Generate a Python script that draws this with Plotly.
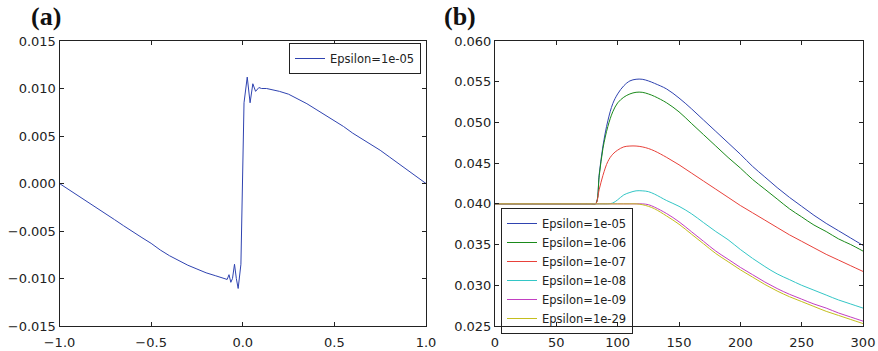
import plotly.graph_objects as go

# ---------------- Panel (a) data ----------------
a_x = [-1.0, -0.95, -0.9, -0.85, -0.8, -0.75, -0.7, -0.65, -0.6, -0.55, -0.5,
       -0.45, -0.4, -0.35, -0.3, -0.25, -0.2, -0.15, -0.115,
       -0.095, -0.085, -0.075, -0.065, -0.056, -0.045,
       -0.035, -0.025, -0.010, -0.004, 0.002, 0.007, 0.0245, 0.04, 0.055,
       0.070, 0.088, 0.103, 0.13, 0.16, 0.2, 0.25, 0.3, 0.35, 0.4, 0.45, 0.5,
       0.55, 0.6, 0.65, 0.7, 0.75, 0.8, 0.85, 0.9, 0.95, 1.0]
a_y = [0.0, -0.00062, -0.00124, -0.00186, -0.0025, -0.00315, -0.0038, -0.00445,
       -0.0051, -0.0057, -0.0063, -0.0070, -0.0076, -0.0081, -0.0086, -0.0090,
       -0.0094, -0.0097, -0.0099,
       -0.0100, -0.0101, -0.0096, -0.0104, -0.0100, -0.0085,
       -0.0100, -0.01105, -0.0085, -0.003, 0.003, 0.0085, 0.0112, 0.0085, 0.0105,
       0.0097, 0.0101, 0.0100, 0.0100, 0.0099, 0.0097, 0.0094, 0.0089, 0.0084,
       0.0078, 0.0072, 0.0066, 0.0060, 0.0053, 0.0047, 0.0041, 0.0035, 0.0028,
       0.0021, 0.0014, 0.0007, 0.0]
a_name = "Epsilon=1e-05"

# ---------------- Panel (b) data ----------------
b_t = [0, 78, 82, 85, 88, 92, 96, 100, 105, 110, 115, 120, 125, 130, 140, 150,
       160, 170, 180, 190, 200, 210, 220, 230, 240, 250, 260, 270, 280, 290, 300]
eps_1e05 = [0.0400, 0.0400, 0.0400, 0.0437, 0.0471, 0.0502, 0.0523, 0.0535,
            0.0545, 0.0551, 0.0553, 0.0553, 0.0551, 0.0548, 0.0541, 0.0530,
            0.0517, 0.0503, 0.0489, 0.0475, 0.0461, 0.0446, 0.0433, 0.0420,
            0.0408, 0.0397, 0.0386, 0.0376, 0.0367, 0.0358, 0.0349]
eps_1e06 = [0.0400, 0.0400, 0.0400, 0.0435, 0.0468, 0.0495, 0.0513, 0.0524,
            0.0531, 0.0535, 0.0537, 0.0537, 0.0535, 0.0532, 0.0524, 0.0513,
            0.0499, 0.0485, 0.0471, 0.0457, 0.0444, 0.0430, 0.0418, 0.0406,
            0.0394, 0.0384, 0.0374, 0.0366, 0.0357, 0.0350, 0.0342]
eps_1e07 = [0.0400, 0.0400, 0.0400, 0.0418, 0.0435, 0.0452, 0.0461, 0.0466,
            0.0470, 0.0471, 0.0471, 0.0470, 0.0468, 0.0465, 0.0457, 0.0448,
            0.0438, 0.0428, 0.0418, 0.0408, 0.0398, 0.0389, 0.0380, 0.0371,
            0.0362, 0.0354, 0.0346, 0.0338, 0.0331, 0.0324, 0.0317]
eps_1e08 = [0.0400, 0.0400, 0.0400, 0.0400, 0.0400, 0.0400, 0.0401, 0.0405,
            0.0411, 0.0414, 0.0416, 0.0416, 0.0415, 0.0412, 0.0404, 0.0397,
            0.0388, 0.0377, 0.0366, 0.0356, 0.0344, 0.0333, 0.0323, 0.0314,
            0.0307, 0.0300, 0.0294, 0.0288, 0.0282, 0.0277, 0.0272]
eps_1e09 = [0.0400, 0.0400, 0.0400, 0.0400, 0.0400, 0.0400, 0.0400, 0.0400,
            0.0400, 0.0400, 0.0400, 0.0400, 0.0399, 0.0396, 0.0388, 0.0378,
            0.0366, 0.0354, 0.0342, 0.0332, 0.0322, 0.0313, 0.0304, 0.0296,
            0.0289, 0.0283, 0.0277, 0.0272, 0.0266, 0.0261, 0.0256]
eps_1e29 = [0.0400, 0.0400, 0.0400, 0.0400, 0.0400, 0.0400, 0.0400, 0.0400,
            0.0400, 0.0400, 0.0400, 0.0399, 0.0397, 0.0394, 0.0385, 0.0375,
            0.0363, 0.0351, 0.0339, 0.0329, 0.0319, 0.0310, 0.0301, 0.0293,
            0.0286, 0.0280, 0.0274, 0.0268, 0.0263, 0.0258, 0.0253]
b_series = [eps_1e05, eps_1e06, eps_1e07, eps_1e08, eps_1e09, eps_1e29]
b_names = ["Epsilon=1e-05", "Epsilon=1e-06", "Epsilon=1e-07",
           "Epsilon=1e-08", "Epsilon=1e-09", "Epsilon=1e-29"]
b_colors = ["#2f43b0", "#1a8a1a", "#e8413a", "#33c6c6", "#c23fc2", "#c4be1e"]

a_ticks = [-1.0, -0.5, 0.0, 0.5, 1.0]
a_yticks = [-0.015, -0.010, -0.005, 0.000, 0.005, 0.010, 0.015]
b_ticks = [0, 50, 100, 150, 200, 250, 300]
b_yticks = [0.025, 0.030, 0.035, 0.040, 0.045, 0.050, 0.055, 0.060]

W, H = 878, 351
fig = go.Figure()
fig.add_trace(go.Scatter(x=a_x, y=a_y, mode="lines", name=a_name,
                         line=dict(color="#2f43b0", width=1),
                         xaxis="x", yaxis="y", legend="legend"))
for ys, nm, c in zip(b_series, b_names, b_colors):
    fig.add_trace(go.Scatter(x=b_t, y=ys, mode="lines", name=nm,
                             line=dict(color=c, width=1, shape="spline", smoothing=1.0),
                             xaxis="x2", yaxis="y2", legend="legend2"))

tickfont = dict(family="DejaVu Sans", size=13, color="#222")
axis_common = dict(showline=True, linecolor="#222", linewidth=1, mirror="ticks",
                   ticks="inside", ticklen=4, tickwidth=1, tickcolor="#222",
                   showgrid=False, zeroline=False, tickfont=tickfont,
                   automargin=False)

ydom = [(H - 326) / H, (H - 41) / H]
fig.update_layout(
    width=W, height=H, margin=dict(l=0, r=0, t=0, b=0, autoexpand=False),
    paper_bgcolor="white", plot_bgcolor="white",
    xaxis=dict(domain=[59.5 / W, 426 / W], range=[-1, 1], tickvals=a_ticks,
               tickformat=".1f", anchor="y", ticklabelstandoff=4, **axis_common),
    yaxis=dict(domain=ydom, range=[-0.015, 0.015], tickvals=a_yticks,
               tickformat=".3f", anchor="x", **axis_common),
    xaxis2=dict(domain=[495 / W, 863 / W], range=[0, 300], tickvals=b_ticks,
                anchor="y2", ticklabelstandoff=4, **axis_common),
    yaxis2=dict(domain=ydom, range=[0.025, 0.060], tickvals=b_yticks,
                tickformat=".3f", anchor="x2", **axis_common),
    legend=dict(x=421 / W, y=1 - 43 / H, xanchor="right", yanchor="top",
                bordercolor="#222", borderwidth=1, bgcolor="white",
                font=dict(family="DejaVu Sans", size=11.5, color="#222")),
    legend2=dict(x=501 / W, y=1 - 208 / H, xanchor="left", yanchor="top",
                 bordercolor="#222", borderwidth=1, bgcolor="rgba(255,255,255,0)",
                 font=dict(family="DejaVu Sans", size=11.5, color="#222")),
    showlegend=True,
    annotations=[
        dict(text="<b>(a)</b>", x=46 / W, y=1 - 17 / H, xref="paper", yref="paper",
             xanchor="center", yanchor="middle", showarrow=False,
             font=dict(family="Liberation Serif", size=26, color="#111")),
        dict(text="<b>(b)</b>", x=460 / W, y=1 - 17 / H, xref="paper", yref="paper",
             xanchor="center", yanchor="middle", showarrow=False,
             font=dict(family="Liberation Serif", size=26, color="#111")),
    ],
)
fig.write_html("out.html")
